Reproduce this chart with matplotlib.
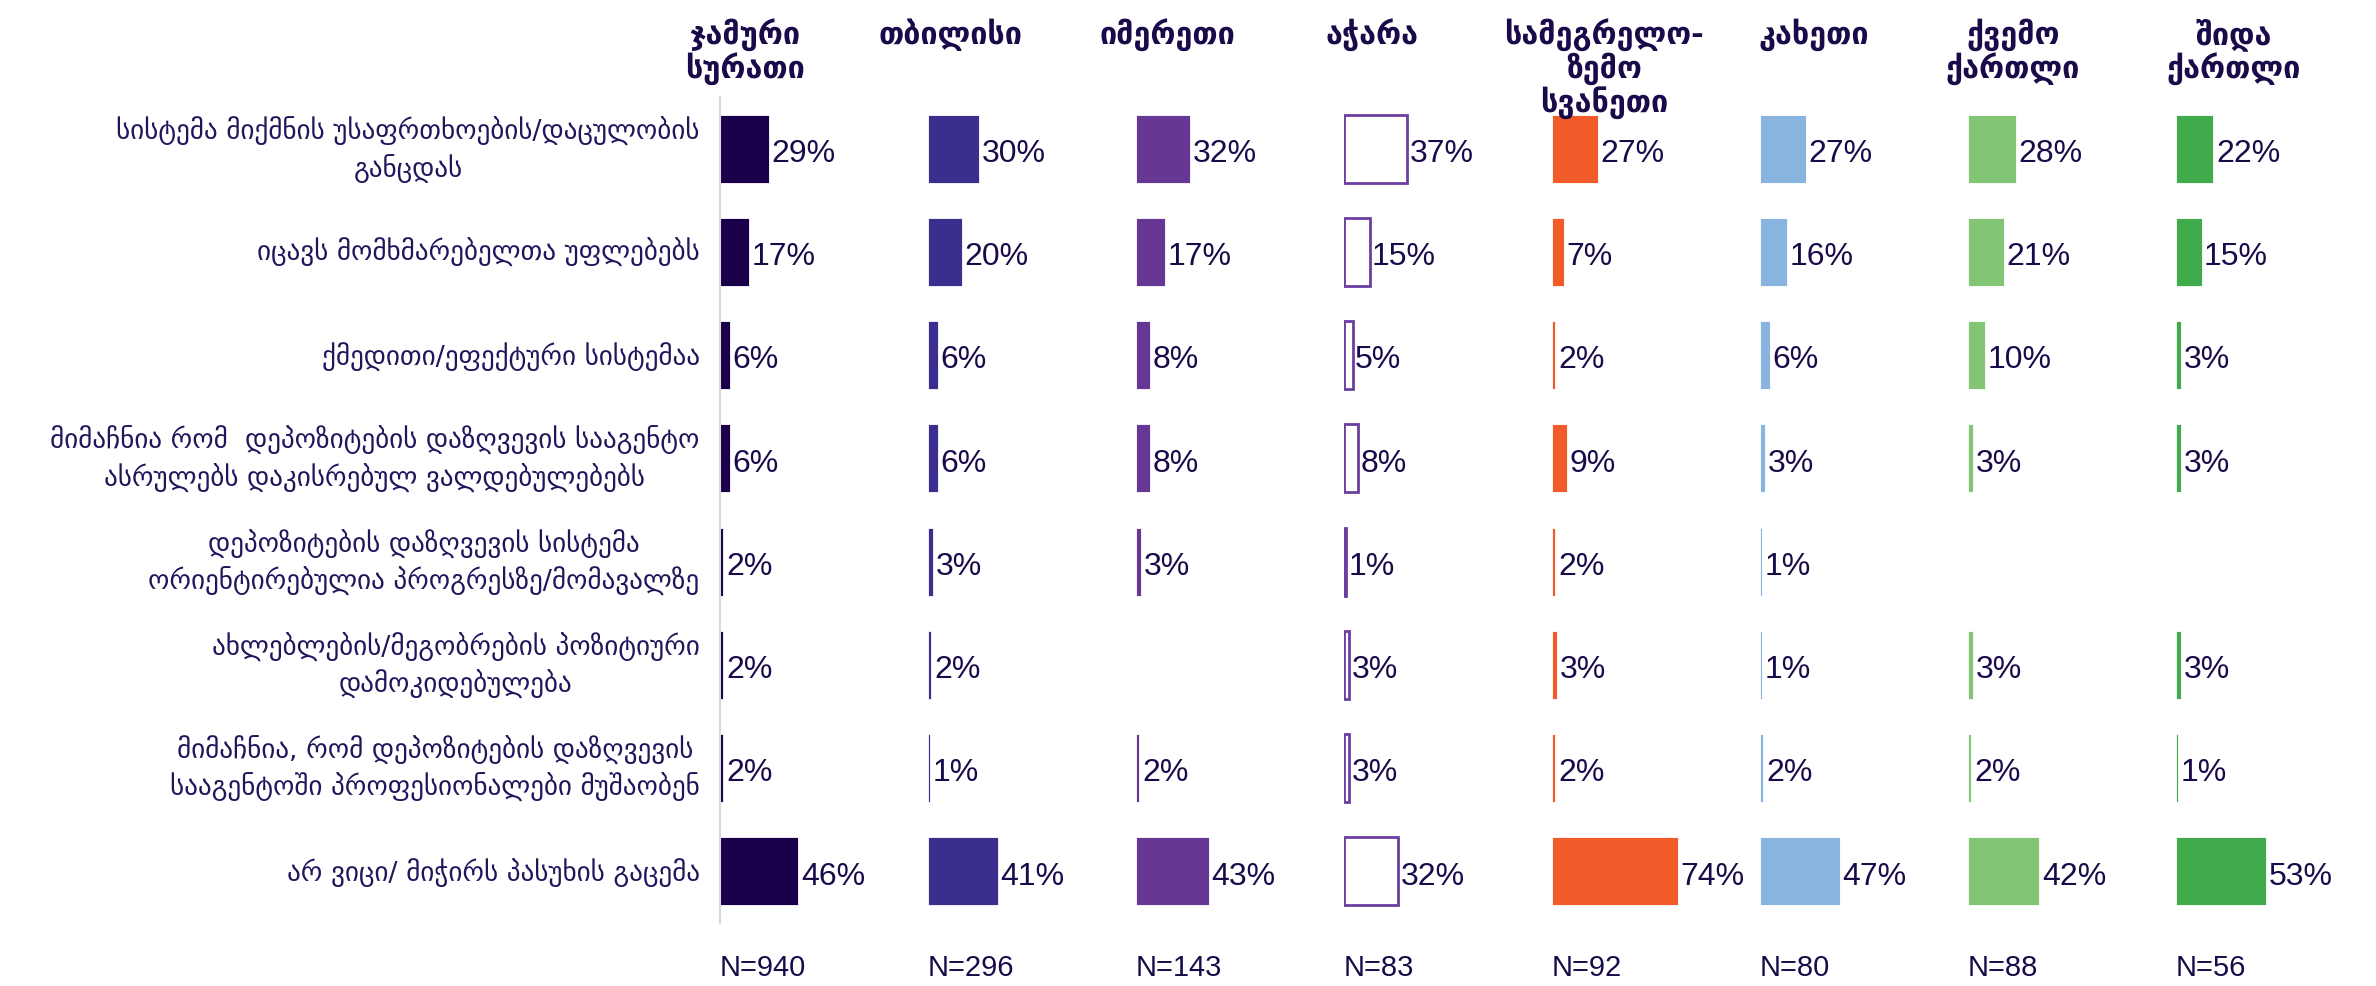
import matplotlib.pyplot as plt
import numpy as np

categories = [
    "სისტემა მიქმნის უსაფრთხოების/დაცულობის\nგანცდას",
    "იცავს მომხმარებელთა უფლებებს",
    "ქმედითი/ეფექტური სისტემაა",
    "მიმაჩნია რომ  დეპოზიტების დაზღვევის სააგენტო\nასრულებს დაკისრებულ ვალდებულებებს",
    "დეპოზიტების დაზღვევის სისტემა\nორიენტირებულია პროგრესზე/მომავალზე",
    "ახლებლების/მეგობრების პოზიტიური\nდამოკიდებულება",
    "მიმაჩნია, რომ დეპოზიტების დაზღვევის\nსააგენტოში პროფესიონალები მუშაობენ",
    "არ ვიცი/ მიჭირს პასუხის გაცემა",
]

regions = ["ჯამური\nსურათი", "თბილისი", "იმერეთი", "აჭარა",
           "სამეგრელო-\nზემო\nსვანეთი", "კახეთი", "ქვემო\nქართლი", "შიდა\nქართლი"]
n_sizes = [940, 296, 143, 83, 92, 80, 88, 56]

total = [29, 17, 6, 6, 2, 2, 2, 46]
tbilisi = [30, 20, 6, 6, 3, 2, 1, 41]
imereti = [32, 17, 8, 8, 3, None, 2, 43]
adjara = [37, 15, 5, 8, 1, 3, 3, 32]
samegrelo = [27, 7, 2, 9, 2, 3, 2, 74]
kakheti = [27, 16, 6, 3, 1, 1, 2, 47]
kvemo_kartli = [28, 21, 10, 3, None, 3, 2, 42]
shida_kartli = [22, 15, 3, 3, None, 3, 1, 53]

series = [total, tbilisi, imereti, adjara, samegrelo, kakheti, kvemo_kartli, shida_kartli]
colors = ['#1a004a', '#3a2e8e', '#663795', 'white', '#f15a29', '#8ab4e0', '#82c675', '#40ab4a']

txt_color = '#1a0a4a'
geo_font = ['DejaVu Sans']
num_font = ['Liberation Sans', 'DejaVu Sans']

W, H = 2376, 987
fig = plt.figure(figsize=(W / 100, H / 100), dpi=100)

left0 = 720
step = 208
px_per_pct = 1.7
top_px, bot_px = 98, 924
# header centre offset from each panel's left edge (px)
head_off = [25, 22, 31, 28, 52, 54, 45, 58]
y = np.arange(len(categories))

for k, vals in enumerate(series):
    x0 = left0 + k * step
    ax = fig.add_axes([x0 / W, 1 - bot_px / H, step / W, (bot_px - top_px) / H])
    ax.set_xlim(0, step / px_per_pct)
    ax.set_ylim(len(categories) - 0.5, -0.5)
    for s in ['top', 'right', 'bottom']:
        ax.spines[s].set_visible(False)
    if k == 0:
        ax.spines['left'].set_color('#d9d9d9')
        ax.spines['left'].set_linewidth(1.5)
    else:
        ax.spines['left'].set_visible(False)
    ax.set_xticks([])
    ax.set_yticks([])
    ax.patch.set_alpha(0)

    for i, v in enumerate(vals):
        if v is None:
            continue
        if k == 3:
            ax.barh(i, v, height=0.66, color='white', edgecolor='#6b3fa0', linewidth=2)
        else:
            ax.barh(i, v, height=0.66, color=colors[k], edgecolor='white', linewidth=0.6)
        ax.text(v + 1.5, i + 0.04, f"{v}%", va='center', ha='left', fontsize=23,
                color=txt_color, family=num_font)

    if k == 0:
        for i, c in enumerate(categories):
            ax.text(-12, i, c, ha='right', va='center', multialignment='center',
                    fontsize=19.5, color='#24145c', family=geo_font, linespacing=1.35)

    fig.text((x0 + head_off[k]) / W, 1 - 18 / H, regions[k], ha='center', va='top',
             fontsize=22, fontweight='bold', color=txt_color, family=geo_font,
             linespacing=1.05)
    fig.text(x0 / W, 1 - 968 / H, f"N={n_sizes[k]}", ha='left', va='center',
             fontsize=21, color=txt_color, family=num_font)

fig.savefig('out.png', dpi=100, facecolor='white')
